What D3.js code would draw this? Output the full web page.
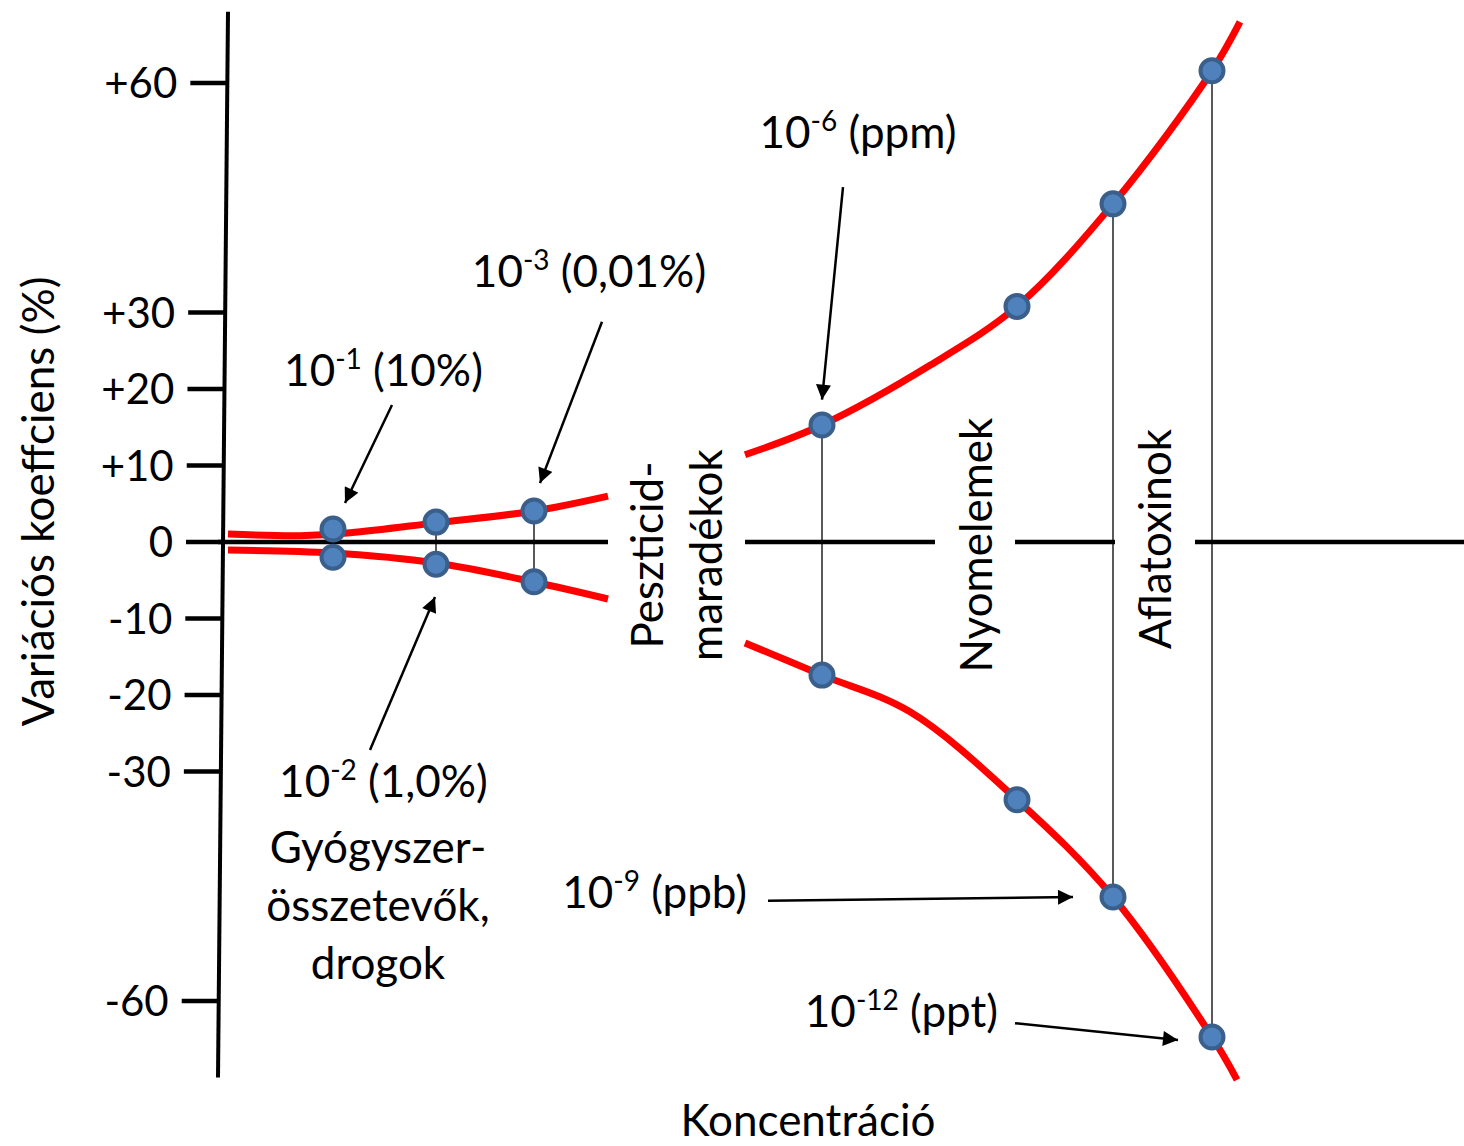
<!DOCTYPE html>
<html>
<head>
<meta charset="utf-8">
<script src="https://cdn.jsdelivr.net/npm/d3@7"></script>
<style>
  body { margin: 0; background: #fff; }
  text { font-family: Lato, 'Noto Sans', sans-serif; fill: #000; }
</style>
</head>
<body>
<script>
// Horwitz trumpet data (x = position along concentration axis, arbitrary log units)
const pointX = [1.05, 2.08, 3.06, 5.94, 7.89, 8.85, 9.84];
const upperCV = [1.7, 2.6, 4.05, 15.3, 30.8, 44.2, 61.6];
const lowerCV = [-2.0, -2.9, -5.2, -17.4, -33.7, -46.4, -64.7];
const hasConnector = [true, true, true, true, false, true, true];

// red curves, split where the category labels interrupt them
const upperLeftX = [0, 0.72, 1.22, 2.08, 3.06, 3.8];
const upperLeftV = [1.05, 0.82, 1.2, 2.5, 4.05, 6.0];
const lowerLeftX = [0, 1.05, 2.08, 3.06, 3.8];
const lowerLeftV = [-1.05, -1.44, -2.75, -5.23, -7.45];
const upperRightX = [5.17, 5.94, 7.02, 7.89, 8.85, 9.84, 10.12];
const upperRightV = [11.4, 15.3, 23.1, 30.8, 44.2, 61.6, 68.0];
const lowerRightX = [5.17, 5.94, 6.82, 7.89, 8.85, 9.84, 10.09];
const lowerRightV = [-13.2, -17.4, -22.2, -33.7, -46.4, -64.7, -70.3];

// axis
const tickValues = [60, 30, 20, 10, 0, -10, -20, -30, -60];
const tickLabels = ['+60', '+30', '+20', '+10', '0', '-10', '-20', '-30', '-60'];
const zeroLineSegments = [[-0.1, 3.8], [5.17, 7.07], [7.87, 8.87], [9.67, 12.4]];

// category labels (rotated)
const categoryNames = [['Peszticid-', 'maradékok'], ['Nyomelemek'], ['Aflatoxinok']];
const categoryX = [[4.35, 4.94], [7.64], [9.43]];
const categoryV = [-1.7, -0.4, 0.4];

// concentration annotations: base, exponent, rest
const annBase = ['10', '10', '10', '10', '10', '10'];
const annExp = ['-1', '-2', '-3', '-6', '-9', '-12'];
const annRest = [' (10%)', ' (1,0%)', ' (0,01%)', ' (ppm)', ' (ppb)', ' (ppt)'];
const annX = [1.555, 1.555, 3.61, 6.30, 5.19, 7.70];
const annV = [20.4, -33.3, 33.3, 51.5, -47.8, -63.4];
const annAnchor = ['middle', 'middle', 'middle', 'middle', 'end', 'end'];
const arrowFrom = [[1.64, 17.9], [1.42, -27.2], [3.74, 28.8], [6.15, 46.4], [5.40, -46.9], [7.87, -62.9]];
const arrowTo = [[1.17, 5.1], [2.07, -7.2], [3.12, 7.7], [5.94, 18.6], [8.45, -46.4], [9.50, -65.1]];

const drugLines = ['Gyógyszer-', 'összetevők,', 'drogok'];
const drugV = [-42.0, -49.5, -57.1];

const svgWidth = 1464;
const svgHeight = 1146;
const fontSize = 44;

const svg = d3.select('body')
  .append('svg')
  .attr('width', svgWidth)
  .attr('height', svgHeight);

const xScale = d3.scaleLinear()
  .domain([0, 10])
  .range([228, 1228]);

const yScale = d3.scaleLinear()
  .domain([0, 60])
  .range([542, 83]);

// the vertical axis leans slightly to the left towards the bottom
const axisX = d3.scaleLinear()
  .domain([-70, 69.3])
  .range([218, 228]);

svg.append('defs').append('marker')
  .attr('id', 'arrow')
  .attr('markerUnits', 'userSpaceOnUse')
  .attr('viewBox', '0 0 10 10')
  .attr('refX', 10)
  .attr('refY', 5)
  .attr('markerWidth', 17)
  .attr('markerHeight', 15)
  .attr('orient', 'auto')
  .append('path')
  .attr('d', 'M0,0 L10,5 L0,10 Z')
  .attr('fill', '#000');

// zero line with gaps for labels
svg.selectAll('.zero-seg')
  .data(zeroLineSegments)
  .enter()
  .append('line')
  .attr('class', 'zero-seg')
  .attr('x1', d => xScale(d[0]))
  .attr('x2', d => xScale(d[1]))
  .attr('y1', yScale(0))
  .attr('y2', yScale(0))
  .attr('stroke', '#000')
  .attr('stroke-width', 4.5);

// y axis line
svg.append('line')
  .attr('x1', axisX(69.3))
  .attr('y1', yScale(69.3))
  .attr('x2', axisX(-70))
  .attr('y2', yScale(-70))
  .attr('stroke', '#000')
  .attr('stroke-width', 4);

const ticks = svg.selectAll('.tick')
  .data(tickValues)
  .enter()
  .append('g')
  .attr('class', 'tick');

ticks.append('line')
  .attr('x1', d => axisX(d) - 37)
  .attr('x2', d => axisX(d))
  .attr('y1', d => yScale(d))
  .attr('y2', d => yScale(d))
  .attr('stroke', '#000')
  .attr('stroke-width', 4.5);

ticks.append('text')
  .attr('x', d => axisX(d) - 50)
  .attr('y', d => yScale(d) + 15)
  .attr('text-anchor', 'end')
  .style('font-size', '42px')
  .text((d, i) => tickLabels[i]);

// axis titles
svg.append('text')
  .attr('transform', `translate(54,${yScale(5.3)}) rotate(-90)`)
  .attr('text-anchor', 'middle')
  .style('font-size', fontSize + 'px')
  .text('Variációs koeffciens (%)');

svg.append('text')
  .attr('x', 808)
  .attr('y', 1136)
  .attr('text-anchor', 'middle')
  .style('font-size', fontSize + 'px')
  .text('Koncentráció');

// connectors between upper and lower points
svg.selectAll('.connector')
  .data(pointX.filter((d, i) => hasConnector[i]).map(x => {
    const i = pointX.indexOf(x);
    return { x, up: upperCV[i], low: lowerCV[i] };
  }))
  .enter()
  .append('line')
  .attr('class', 'connector')
  .attr('x1', d => xScale(d.x))
  .attr('x2', d => xScale(d.x))
  .attr('y1', d => yScale(d.up))
  .attr('y2', d => yScale(d.low))
  .attr('stroke', '#000')
  .attr('stroke-width', 1.3);

// red curves
const line = d3.line()
  .x(d => xScale(d[0]))
  .y(d => yScale(d[1]))
  .curve(d3.curveCatmullRom.alpha(0.5));

const curves = [
  d3.zip(upperLeftX, upperLeftV),
  d3.zip(lowerLeftX, lowerLeftV),
  d3.zip(upperRightX, upperRightV),
  d3.zip(lowerRightX, lowerRightV)
];

svg.selectAll('.curve')
  .data(curves)
  .enter()
  .append('path')
  .attr('class', 'curve')
  .attr('d', line)
  .attr('fill', 'none')
  .attr('stroke', '#ff0000')
  .attr('stroke-width', 7);

// points
const points = d3.zip(pointX, upperCV).concat(d3.zip(pointX, lowerCV));
svg.selectAll('.point')
  .data(points)
  .enter()
  .append('circle')
  .attr('class', 'point')
  .attr('cx', d => xScale(d[0]))
  .attr('cy', d => yScale(d[1]))
  .attr('r', 11.5)
  .attr('fill', '#4f81bd')
  .attr('stroke', '#3a5f8b')
  .attr('stroke-width', 4);

// rotated category labels
categoryNames.forEach((lines, c) => {
  lines.forEach((name, j) => {
    svg.append('text')
      .attr('transform', `translate(${xScale(categoryX[c][j])},${yScale(categoryV[c])}) rotate(-90)`)
      .attr('text-anchor', 'middle')
      .style('font-size', fontSize + 'px')
      .text(name);
  });
});

// annotations with arrows
annBase.forEach((base, i) => {
  const t = svg.append('text')
    .attr('x', xScale(annX[i]))
    .attr('y', yScale(annV[i]))
    .attr('text-anchor', annAnchor[i])
    .style('font-size', fontSize + 'px');
  t.append('tspan').text(base);
  t.append('tspan')
    .attr('dy', -17)
    .style('font-size', '28px')
    .text(annExp[i]);
  t.append('tspan')
    .attr('dy', 17)
    .text(annRest[i]);

  svg.append('line')
    .attr('x1', xScale(arrowFrom[i][0]))
    .attr('y1', yScale(arrowFrom[i][1]))
    .attr('x2', xScale(arrowTo[i][0]))
    .attr('y2', yScale(arrowTo[i][1]))
    .attr('stroke', '#000')
    .attr('stroke-width', 2.5)
    .attr('marker-end', 'url(#arrow)');
});

svg.selectAll('.drug')
  .data(drugLines)
  .enter()
  .append('text')
  .attr('class', 'drug')
  .attr('x', xScale(1.5))
  .attr('y', (d, i) => yScale(drugV[i]))
  .attr('text-anchor', 'middle')
  .style('font-size', fontSize + 'px')
  .text(d => d);
</script>
</body>
</html>
